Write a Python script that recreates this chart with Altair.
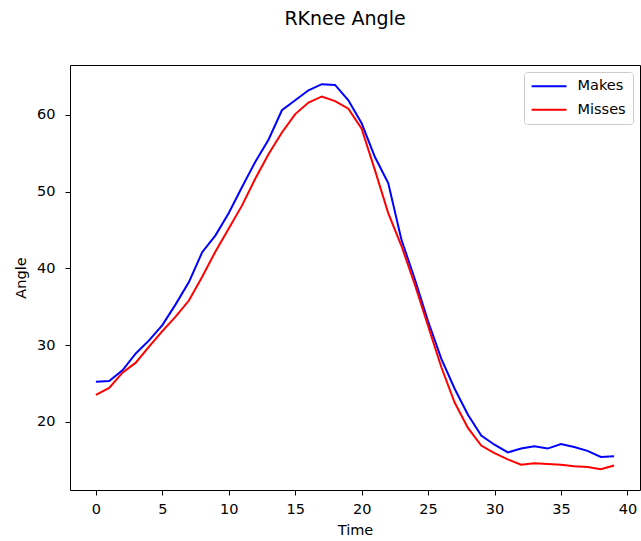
import altair as alt
import pandas as pd

# Knee angle over time, averaged per outcome
time = list(range(40))
makes = [25.2, 25.3, 26.7, 28.9, 30.6, 32.6, 35.3, 38.2, 42.1, 44.3,
         47.2, 50.6, 53.9, 56.8, 60.6, 61.9, 63.2, 64.0, 63.9, 61.9,
         58.9, 54.5, 51.1, 43.7, 38.6, 33.1, 28.2, 24.3, 20.9, 18.2,
         17.0, 16.0, 16.5, 16.8, 16.5, 17.1, 16.7, 16.2, 15.4, 15.5]
misses = [23.5, 24.4, 26.4, 27.7, 29.8, 31.8, 33.7, 35.8, 38.9, 42.2,
          45.2, 48.2, 51.7, 54.9, 57.7, 60.1, 61.6, 62.4, 61.8, 60.8,
          58.2, 52.8, 47.2, 42.9, 37.9, 32.5, 27.1, 22.5, 19.2, 16.9,
          15.9, 15.1, 14.4, 14.6, 14.5, 14.4, 14.2, 14.1, 13.8, 14.3]
series = ["Makes", "Misses"]
colors = ["blue", "red"]

df = pd.concat([
    pd.DataFrame({"Time": time, "Angle": makes, "Series": "Makes"}),
    pd.DataFrame({"Time": time, "Angle": misses, "Series": "Misses"}),
])

font = "DejaVu Sans"

axis_common = dict(
    grid=False, domain=False, tickColor="black", tickSize=5, tickWidth=1,
    labelColor="black", labelFont=font, labelFontSize=14.5,
    titleFont=font, titleFontSize=14.5, titleFontWeight="normal", titleColor="black",
)

# long horizontal handle for the legend lines (path in unit-radius coordinates)
handle = "M-1.175,0L4.96,0"

chart = alt.Chart(df).mark_line(strokeWidth=2).encode(
    x=alt.X("Time:Q", scale=alt.Scale(domain=[-1.95, 40.95], nice=False, zero=False),
            axis=alt.Axis(values=[0, 5, 10, 15, 20, 25, 30, 35, 40], title="Time",
                          labelPadding=7, titlePadding=8, **axis_common)),
    y=alt.Y("Angle:Q", scale=alt.Scale(domain=[11.1, 66.5], nice=False, zero=False),
            axis=alt.Axis(values=[20, 30, 40, 50, 60], title="Angle",
                          labelPadding=10, titlePadding=8, **axis_common)),
    color=alt.Color("Series:N", scale=alt.Scale(domain=series, range=colors),
                    legend=alt.Legend(
                        title=None, orient="top-right", offset=7,
                        symbolType=handle, symbolSize=130, symbolStrokeWidth=2,
                        labelFont=font, labelFontSize=14.5, labelColor="black",
                        padding=7, rowPadding=8.5, labelOffset=32,
                        strokeColor="#cccccc", fillColor="white", cornerRadius=3,
                    )),
).properties(
    width=570, height=425,
    title=alt.TitleParams("RKnee Angle", font=font, fontSize=19, fontWeight="normal",
                          color="black", offset=36, anchor="middle", dx=-10),
    padding={"left": 70, "top": 65, "right": 1, "bottom": 51},
    autosize="none",
).configure_view(stroke="black", strokeWidth=1)

chart.save("out.html", embed_options={"renderer": "svg", "actions": False})
